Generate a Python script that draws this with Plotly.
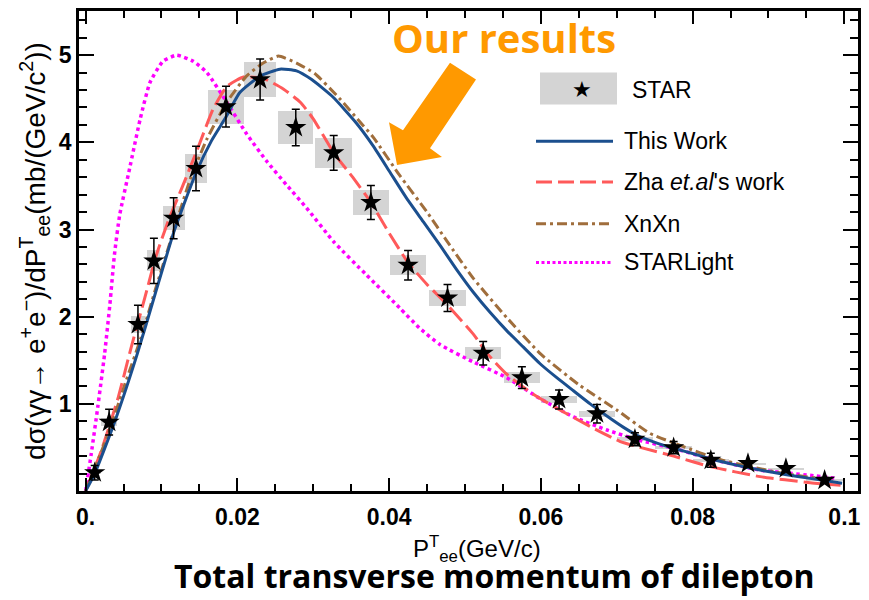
import plotly.graph_objects as go

# ---------------- data ----------------
# STAR measurement: pair transverse momentum (GeV/c), cross section (mb/(GeV/c^2))
star_pt = [0.0012, 0.0031, 0.0069, 0.0090, 0.0116, 0.01455, 0.0185, 0.0230, 0.0277, 0.0327,
           0.0376, 0.0425, 0.0477, 0.0524, 0.0575, 0.0624, 0.0674, 0.0724, 0.0775, 0.0824,
           0.0873, 0.0923, 0.0974]
star_val = [0.21, 0.79, 1.91, 2.64, 3.13, 3.70, 4.41, 4.72, 4.17, 3.88,
            3.31, 2.59, 2.215, 1.58, 1.30, 1.05, 0.886, 0.593, 0.498, 0.353,
            0.316, 0.259, 0.125]
star_stat = [0.083, 0.147, 0.22, 0.26, 0.235, 0.255, 0.235, 0.235, 0.21, 0.20,
             0.195, 0.17, 0.155, 0.135, 0.125, 0.11, 0.105, 0.075, 0.07, 0.08,
             0.03, 0.02, 0.03]
star_sys = [0.02, 0.047, 0.10, 0.12, 0.135, 0.17, 0.195, 0.205, 0.19, 0.17,
            0.145, 0.115, 0.09, 0.07, 0.06, 0.045, 0.033, 0.025, 0.02, 0.015,
            0.01, 0.01, 0.01]
star_binw = [0.0016, 0.0022, 0.0019, 0.0017, 0.0029, 0.0029, 0.0048, 0.0042, 0.0046, 0.0049,
             0.0048, 0.0048, 0.0048, 0.0048, 0.0048, 0.0048, 0.0048, 0.0048, 0.0048, 0.0048,
             0.0048, 0.0048, 0.0048]

# This Work
this_pt = [0, 0.0012, 0.0039, 0.0068, 0.0092, 0.0117, 0.0146, 0.0166, 0.0185, 0.0203,
           0.0230, 0.0256, 0.0278, 0.0298, 0.0326, 0.0357, 0.0379, 0.0401, 0.0423, 0.0445,
           0.0467, 0.0489, 0.0511, 0.0533, 0.0555, 0.0577, 0.0599, 0.0621, 0.0643, 0.0665,
           0.0687, 0.0709, 0.0731, 0.0753, 0.0775, 0.0800, 0.0823, 0.0856, 0.0889, 0.0922,
           0.0955, 0.0997]
this_val = [0, 0.20, 0.81, 1.57, 2.27, 2.99, 3.66, 4.02, 4.29, 4.57,
            4.76, 4.84, 4.82, 4.72, 4.52, 4.22, 3.96, 3.66, 3.36, 3.09,
            2.82, 2.54, 2.28, 2.05, 1.84, 1.65, 1.46, 1.30, 1.15, 1.00,
            0.86, 0.73, 0.62, 0.55, 0.49, 0.43, 0.37, 0.30, 0.24, 0.19,
            0.145, 0.09]

# Zha et al.
zha_pt = [0, 0.0021, 0.0043, 0.0060, 0.0078, 0.0093, 0.0109, 0.0128, 0.0146, 0.0168,
          0.0186, 0.0208, 0.0235, 0.0261, 0.0283, 0.0300, 0.0327, 0.0352, 0.0376, 0.0400,
          0.0425, 0.0450, 0.0475, 0.0511, 0.0530, 0.0555, 0.0590, 0.0621, 0.0665, 0.0704,
          0.0731, 0.0775, 0.0823, 0.0889, 0.0955, 0.0995]
zha_val = [0, 0.47, 1.075, 1.645, 2.215, 2.70, 3.10, 3.50, 3.89, 4.38,
           4.64, 4.75, 4.73, 4.61, 4.46, 4.27, 3.88, 3.60, 3.31, 2.96,
           2.62, 2.37, 2.15, 1.80, 1.57, 1.34, 1.11, 0.95, 0.74, 0.57,
           0.50, 0.40, 0.28, 0.165, 0.095, 0.065]

# XnXn
xnxn_pt = [0, 0.0030, 0.0052, 0.0073, 0.0094, 0.0116, 0.0138, 0.0160, 0.0186, 0.0212,
           0.0234, 0.0254, 0.0278, 0.0302, 0.0335, 0.0360, 0.0379, 0.0414, 0.0450, 0.0476,
           0.0511, 0.0555, 0.0600, 0.0650, 0.0700, 0.0744, 0.0788, 0.0832, 0.0876, 0.0920,
           0.0985]
xnxn_val = [0, 0.66, 1.23, 1.76, 2.37, 2.98, 3.58, 4.04, 4.46, 4.76,
            4.91, 4.99, 4.91, 4.79, 4.50, 4.25, 4.06, 3.62, 3.20, 2.87,
            2.44, 1.99, 1.57, 1.22, 0.93, 0.66, 0.51, 0.37, 0.28, 0.20,
            0.125]

# STARLight
sl_pt = [0, 0.00075, 0.0016, 0.0025, 0.0032, 0.0038, 0.0045, 0.0058, 0.0072, 0.0085,
         0.0102, 0.0120, 0.0142, 0.0160, 0.0186, 0.0212, 0.0239, 0.0265, 0.0291, 0.0327,
         0.0370, 0.0414, 0.0440, 0.0467, 0.0511, 0.0555, 0.0599, 0.0643, 0.0687, 0.0731,
         0.0775, 0.0823, 0.0889, 0.0955, 0.0990]
sl_val = [0, 0.43, 0.96, 1.57, 2.14, 2.71, 3.17, 3.70, 4.27, 4.69,
          4.93, 5.00, 4.93, 4.80, 4.46, 4.10, 3.78, 3.51, 3.25, 2.86,
          2.48, 2.10, 1.87, 1.68, 1.48, 1.30, 1.06, 0.85, 0.70, 0.58,
          0.49, 0.37, 0.24, 0.18, 0.145]

x_tickvals = [0, 0.02, 0.04, 0.06, 0.08, 0.1]
x_ticktext = ["0.", "0.02", "0.04", "0.06", "0.08", "0.1"]
y_tickvals = [1, 2, 3, 4, 5]
y_ticktext = ["1", "2", "3", "4", "5"]

# ---------------- styling ----------------
W, H = 869, 600
ML, MR, MT, MB = 79, 11, 8, 109
BLUE, RED, BROWN, MAGENTA = "#1B4F8E", "#FF5A5A", "#A06E3C", "#FF00FF"
ORANGE = "#FF9900"
BOXGRAY = "#D4D4D4"
TEXT_FONT = "Liberation Sans, Arial, sans-serif"
TICK_FONT = "Liberation Sans Narrow, Arial Narrow, Liberation Sans, Arial, sans-serif"


def px(x):
    return (x - ML) / (W - ML - MR)


def py(y):
    return (H - MB - y) / (H - MT - MB)


def bold(labels):
    return [f"<b>{t}</b>" for t in labels]


fig = go.Figure()

# systematic-uncertainty boxes
fig.add_trace(go.Bar(
    x=star_pt,
    y=[2 * s for s in star_sys],
    base=[v - s for v, s in zip(star_val, star_sys)],
    width=star_binw,
    marker=dict(color=BOXGRAY, line=dict(width=0)),
    showlegend=False, hoverinfo="skip",
))

curves = [
    (sl_pt, sl_val, MAGENTA, "3.5px,3.5px", 3.5, "STARLight"),
    (zha_pt, zha_val, RED, "18px,6px", 3, "Zha et.al's work"),
    (xnxn_pt, xnxn_val, BROWN, "10px,4px,3px,4px", 3, "XnXn"),
    (this_pt, this_val, BLUE, "solid", 3, "This Work"),
]
for xs, ys, col, dash, w, name in curves:
    fig.add_trace(go.Scatter(
        x=xs, y=ys, mode="lines", name=name,
        line=dict(color=col, width=w, dash=dash, shape="spline", smoothing=0.5),
        showlegend=False,
    ))

# STAR points with statistical error bars
fig.add_trace(go.Scatter(
    x=star_pt, y=star_val, mode="markers", name="STAR",
    marker=dict(symbol="star", size=16, color="black", line=dict(width=0)),
    error_y=dict(type="data", array=star_stat, color="black", thickness=1.5, width=4),
    showlegend=False,
))

# ---------------- hand-made legend ----------------
shapes = []
annotations = []
shapes.append(dict(type="rect", xref="paper", yref="paper",
                   x0=px(540), x1=px(617), y0=py(102), y1=py(70),
                   fillcolor=BOXGRAY, line=dict(width=0), layer="above"))
annotations.append(dict(xref="paper", yref="paper", x=px(582), y=py(87),
                        text="★", showarrow=False, xanchor="center", yanchor="middle",
                        font=dict(family="DejaVu Sans", size=22, color="black")))
annotations.append(dict(xref="paper", yref="paper", x=px(630), y=py(87),
                        text="STAR", showarrow=False, xanchor="left", yanchor="middle",
                        font=dict(family=TEXT_FONT, size=23, color="black")))

legend_rows = [
    (139, BLUE, "solid", 3, "This Work"),
    (180, RED, "16px,6px", 3, "Zha <i>et.al</i>'s work"),
    (222, BROWN, "10px,4px,3px,4px", 3, "XnXn"),
    (261, MAGENTA, "3px,2.5px", 3, "STARLight"),
]
for yy, col, dash, w, label in legend_rows:
    shapes.append(dict(type="line", xref="paper", yref="paper",
                       x0=px(536), x1=px(613), y0=py(yy), y1=py(yy),
                       line=dict(color=col, width=w, dash=dash)))
    annotations.append(dict(xref="paper", yref="paper", x=px(622), y=py(yy),
                            text=label, showarrow=False, xanchor="left", yanchor="middle",
                            font=dict(family=TEXT_FONT, size=23, color="black")))

# "Our results" callout with a block arrow
arrow_pts = [(450, 60), (476, 77), (430, 146), (442, 155), (397, 163), (389, 120), (403, 128)]
path = "M " + " L ".join(f"{px(a):.5f},{py(b):.5f}" for a, b in arrow_pts) + " Z"
shapes.append(dict(type="path", xref="paper", yref="paper", path=path,
                   fillcolor=ORANGE, line=dict(width=0), layer="above"))
annotations.append(dict(xref="paper", yref="paper", x=px(504), y=py(35),
                        text="<b>Our results</b>", showarrow=False,
                        xanchor="center", yanchor="middle",
                        font=dict(family="Open Sans", size=40, color=ORANGE)))

# x-axis title, placed by hand just under the tick labels
annotations.append(dict(xref="paper", yref="paper", x=px(477), y=py(530),
                        text="P<sup>T</sup><sub>ee</sub>(GeV/c)", showarrow=False,
                        xanchor="center", yanchor="top",
                        font=dict(family=TEXT_FONT, size=24, color="black")))
annotations.append(dict(xref="paper", yref="paper", x=px(494), y=py(600),
                        text="<b>Total transverse momentum of dilepton</b>", showarrow=False,
                        xanchor="center", yanchor="bottom",
                        font=dict(family="Open Sans", size=32, color="black")))

axis_common = dict(
    showline=True, linecolor="black", linewidth=2.5, mirror="allticks",
    ticks="inside", tickcolor="black", tickwidth=2,
    showgrid=False, zeroline=False,
    tickfont=dict(family=TICK_FONT, size=23, color="black"),
)

fig.update_layout(
    width=W, height=H, autosize=False,
    margin=dict(l=ML, r=MR, t=MT, b=MB),
    paper_bgcolor="white", plot_bgcolor="white",
    xaxis=dict(
        range=[-0.00087, 0.1018], tickvals=x_tickvals, ticktext=bold(x_ticktext), ticklen=13,
        ticklabelstandoff=4,
        minor=dict(ticks="inside", dtick=0.005, ticklen=7, tickwidth=1.5, tickcolor="black"),
        **axis_common,
    ),
    yaxis=dict(
        range=[0, 5.507], tickvals=y_tickvals, ticktext=bold(y_ticktext), ticklen=15,
        minor=dict(ticks="inside", dtick=0.2, ticklen=8, tickwidth=1.5, tickcolor="black"),
        title=dict(text="dσ(γγ→ e<sup>+</sup>e<sup>−</sup>)/dP<sup>T</sup><sub>ee</sub>(mb/(GeV/c<sup>2</sup>))",
                   standoff=6, font=dict(family=TEXT_FONT, size=28, color="black")),
        **axis_common,
    ),
    shapes=shapes,
    annotations=annotations,
    bargap=0,
)

fig.write_html("out.html")
